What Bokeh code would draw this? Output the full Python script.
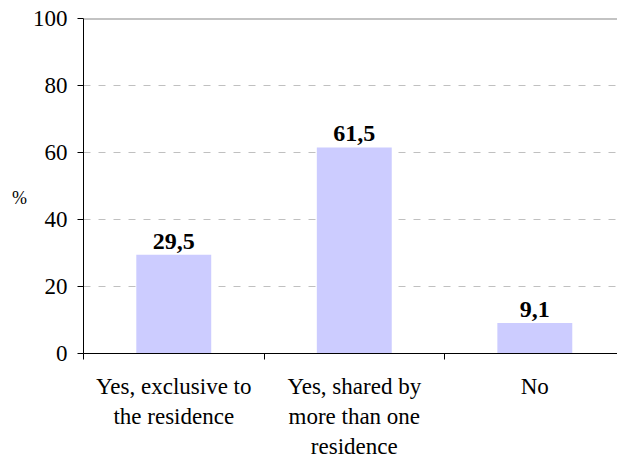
from bokeh.plotting import figure
from bokeh.models import Range1d, FixedTicker, Span, ColumnDataSource
from bokeh.core.properties import value
from bokeh.embed import file_html
from bokeh.resources import INLINE

categories = ["Yes, exclusive to\nthe residence", "Yes, shared by\nmore than one\nresidence", "No"]
values = [29.5, 61.5, 9.1]
value_labels = ["29,5", "61,5", "9,1"]
y_ticks = [0, 20, 40, 60, 80, 100]

FONT = "Liberation Serif"

xs = [i + 0.5 for i in range(len(categories))]
src = ColumnDataSource(dict(x=xs, top=values, lab=value_labels))

p = figure(width=617, height=461, output_backend="svg", toolbar_location=None,
           x_range=Range1d(0, 2.958), y_range=Range1d(0, 100),
           min_border_left=83, min_border_top=18, min_border_bottom=107, min_border_right=0)
p.outline_line_color = None

p.vbar(x="x", top="top", width=0.415, bottom=0, source=src,
       fill_color="#CCCCFF", line_color=None)

p.text(x="x", y="top", text="lab", source=src, y_offset=-6,
       text_align="center", text_baseline="bottom",
       text_font=value(FONT), text_font_style="bold", text_font_size="24px",
       text_color="black")

p.add_layout(Span(location=100, dimension="width", line_color="#888888", line_width=2))

ya = p.yaxis[0]
ya.ticker = FixedTicker(ticks=y_ticks)
ya.axis_line_color = "black"
ya.major_tick_line_color = "black"
ya.major_tick_out = 6
ya.major_tick_in = 0
ya.minor_tick_line_color = None
ya.major_label_text_font = FONT
ya.major_label_text_font_size = "23px"
ya.major_label_text_color = "black"
ya.major_label_standoff = 10
ya.axis_label = "\n%"
ya.axis_label_orientation = "horizontal"
ya.axis_label_text_font = FONT
ya.axis_label_text_font_size = "18px"
ya.axis_label_text_font_style = "normal"
ya.axis_label_text_color = "black"
ya.axis_label_standoff = 3

xa = p.xaxis[0]
xa.ticker = FixedTicker(ticks=xs, minor_ticks=[float(i) for i in range(len(categories) + 1)])
xa.major_label_overrides = {x: c for x, c in zip(xs, categories)}
xa.major_tick_line_color = None
xa.minor_tick_line_color = "black"
xa.minor_tick_out = 6
xa.minor_tick_in = 0
xa.axis_line_color = "black"
xa.major_label_text_font = FONT
xa.major_label_text_font_size = "23px"
xa.major_label_text_color = "black"
xa.major_label_standoff = 14

p.xgrid.grid_line_color = None
p.ygrid.ticker = FixedTicker(ticks=[20, 40, 60, 80])
p.ygrid.grid_line_color = "#C0C0C0"
p.ygrid.grid_line_dash = "7 8"

open("out.html", "w").write(file_html(p, INLINE))
